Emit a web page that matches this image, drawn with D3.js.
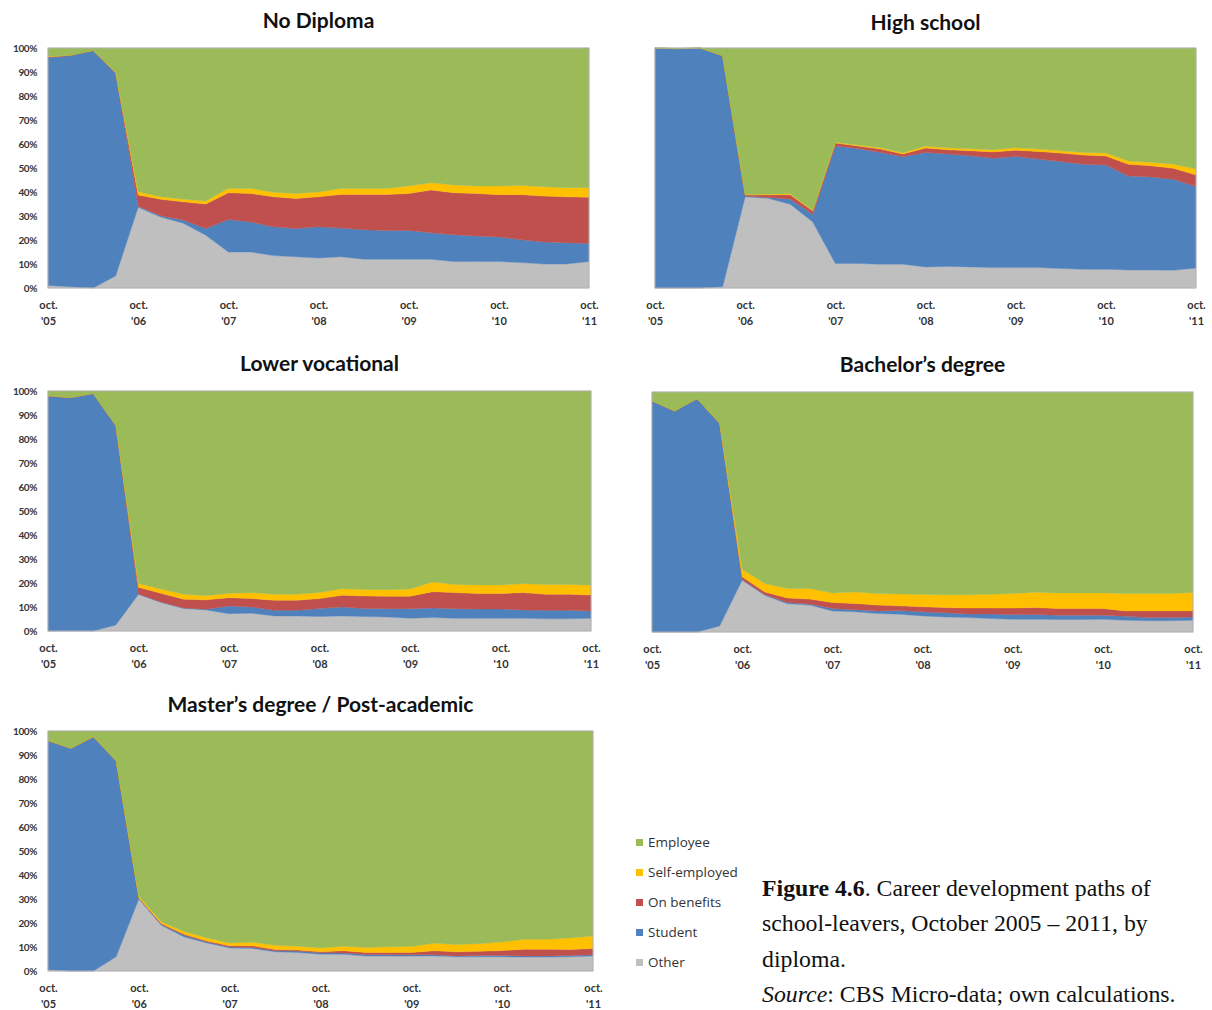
<!DOCTYPE html>
<html>
<head>
<meta charset="utf-8">
<script src="https://cdn.jsdelivr.net/npm/d3@7"></script>
<style>
  html, body { margin: 0; padding: 0; background: #fff; }
  svg { display: block; }
</style>
</head>
<body>
<svg id="chart" width="1212" height="1010"></svg>
<script>
// ---- categories / ticks ----
const quarters = d3.range(25); // Oct 2005 ... Oct 2011, quarterly
const tickYears = ["'05", "'06", "'07", "'08", "'09", "'10", "'11"];
const tickMonth = "oct.";
const yTicks = [0, 10, 20, 30, 40, 50, 60, 70, 80, 90, 100];
const seriesNames = ["Other", "Student", "On benefits", "Self-employed", "Employee"];
const seriesColors = ["#BFBFBF", "#4F81BD", "#C0504D", "#FFC000", "#9BBB59"];
const legendOrder = ["Employee", "Self-employed", "On benefits", "Student", "Other"];

// ---- No Diploma ----
const noDiplomaOther    = [1,0.5,0,5,33.6,29.6,27,22,15,15,13.5,13,12.5,13,12,12,12,12,11,11,11,10.6,10,10,11];
const noDiplomaStudent  = [95,96.5,99,84.5,0.5,0.5,1.3,2.8,13.5,12.5,12,11.8,13,12,12.3,12,12,11,11.2,10.7,10.3,9.5,9.2,8.9,7.5];
const noDiplomaBenefits = [0.3,0.2,0.1,0.3,4.6,6.9,7.6,10.2,11.2,11.9,12.5,12.5,12.5,14,14.7,15,15.4,17.8,17.5,17.7,17.6,18.8,19.1,19.1,19.3];
const noDiplomaSelf     = [0.2,0,0,0.2,1.4,1.1,1.1,1.2,1.8,2.1,1.9,2.1,2,2.5,2.5,2.5,3.1,3.1,3.2,3.1,3.6,3.8,3.9,3.8,4];
const noDiplomaEmployee = [3.5,3,1,10,59.9,62,63,63.8,58.5,58.5,60.1,60.6,60,58.5,58.5,58.5,57.5,56.1,57.1,57.5,57.5,57.3,57.8,58.2,58.2];

// ---- High school ----
const highSchoolOther    = [0,0,0,0.5,38,37.4,34.9,27.5,10.2,10.2,9.9,9.9,8.8,9,8.8,8.5,8.5,8.5,8.1,7.8,7.8,7.5,7.5,7.4,8.3];
const highSchoolStudent  = [100,99.7,100,96.3,0.3,0.3,2.1,3.2,49,47.9,46.6,44.8,47.7,46.8,46.3,45.6,46.3,45.2,44.6,43.8,43.5,39.2,38.8,37.9,34];
const highSchoolBenefits = [0,0,0,0,0.4,1.1,1.9,1.4,1.2,1.1,1.4,1.1,1.8,1.8,2.1,2.6,2.6,3.2,3.5,3.8,3.7,4.9,4.6,4.6,4.8];
const highSchoolSelf     = [0,0,0,0,0.3,0.3,0.4,0.2,0.3,0.4,0.5,0.6,0.8,0.8,0.8,0.9,1,1,1,1.1,1.2,1.3,1.5,1.7,2.5];
const highSchoolEmployee = [0,0.3,0,3.2,61,60.9,60.7,67.7,39.3,40.4,41.6,43.6,40.9,41.6,42,42.4,41.6,42.1,42.8,43.5,43.8,47.1,47.6,48.4,50.4];

// ---- Lower vocational ----
const lowerVocOther    = [0,0,0,2.5,15.3,11.9,9.4,8.8,7.2,7.4,6.3,6.3,6,6.3,6,5.8,5.3,5.6,5.3,5.3,5.3,5.3,5.1,5.1,5.3];
const lowerVocStudent  = [97.8,97.2,98.9,82.9,0.1,0.2,0.2,0.3,3.2,2.6,2.3,2.3,3.4,3.7,3.4,3.5,4,4,4,3.9,3.9,3.5,3.5,3.5,3];
const lowerVocBenefits = [0.2,0.1,0.1,0.2,2.8,3.6,3.6,3.9,3.5,3.5,4.2,4.2,4.1,4.9,5.2,5.2,5.2,6.8,6.7,6.4,6.4,7.2,6.7,6.7,6.7];
const lowerVocSelf     = [0,0,0,0,1.6,1.8,2.1,1.7,1.8,2.4,2.5,2.5,2.5,2.7,2.7,2.7,3,4,3.4,3.6,3.6,3.7,4.1,4.1,4.1];
const lowerVocEmployee = [2,2.7,1,14.4,80.3,82.6,84.7,85.4,84.3,83.7,84.7,84.7,84,82.4,82.7,82.8,82.5,79.6,80.6,80.8,80.8,80.3,80.6,80.6,80.9];

// ---- Bachelor's degree ----
const bachelorOther    = [0,0,0,2.5,21.6,15.3,11.8,11.2,8.8,8.4,7.7,7.4,6.7,6.3,6,5.6,5.3,5.3,5.2,5.2,5.3,4.9,4.7,4.7,4.9];
const bachelorStudent  = [96.2,92,97.2,84.4,0.3,0.3,0.5,0.5,1,0.9,1.1,1.6,1.7,1.7,1.5,1.9,2,2,1.8,1.8,1.7,1.7,1.3,1.3,1.4];
const bachelorBenefits = [0.1,0.1,0,0.1,1.1,1.1,1.9,2,2.5,2.6,2.4,1.9,2.1,2.2,2.5,2.5,2.7,2.9,2.8,2.8,2.8,2.2,2.8,2.8,2.5];
const bachelorSelf     = [0.1,0,0.1,0.2,3.1,3.5,3.9,4.4,4,4.8,4.8,4.9,5.1,5.3,5.5,5.7,6,6.4,6.5,6.5,6.5,7.2,7.2,7.2,7.7];
const bachelorEmployee = [3.6,7.9,2.7,12.8,73.9,79.8,81.9,81.9,83.7,83.3,84,84.2,84.4,84.5,84.5,84.3,84,83.4,83.7,83.7,83.7,84,84,84,83.5];

// ---- Master's degree / Post-academic ----
const masterOther    = [0.5,0,0,5.9,30,19,14.2,11.7,9.6,9.4,8,7.7,7,7,6.2,6.2,6.2,6.3,5.9,5.9,5.9,5.8,5.8,5.9,6.2];
const masterStudent  = [95.4,92.7,97.5,81.6,0.3,0.3,0.7,0.4,0.4,0.4,0.4,0.6,0.6,0.5,0.7,0.6,0.6,0.5,0.4,0.6,0.6,0.5,0.5,0.6,0.6];
const masterBenefits = [0.1,0.1,0.1,0.1,0.1,0.4,0.4,0.4,0.5,0.7,0.6,0.4,0.4,0.9,0.8,0.9,0.9,1.6,1.7,1.7,2,2.8,2.8,2.5,2.6];
const masterSelf     = [0.1,0,0.1,0.1,0.7,0.7,1.2,1.3,1.2,1.5,1.7,1.6,1.6,1.9,2.1,2.4,2.5,3.2,3,3.2,3.6,4.1,4.1,4.8,5.2];
const masterEmployee = [3.9,7.2,2.3,12.3,68.9,79.6,83.5,86.2,88.3,88,89.3,89.7,90.4,89.7,90.2,89.8,89.7,88.4,89,88.6,87.9,86.8,86.8,86.2,85.4];

// ---- layout ----
const panels = [
  { title: "No Diploma", x0: 48, x1: 589, y0: 48, y1: 288, titleY: 28, yAxis: true,
    series: [noDiplomaOther, noDiplomaStudent, noDiplomaBenefits, noDiplomaSelf, noDiplomaEmployee] },
  { title: "High school", x0: 655, x1: 1196, y0: 48, y1: 288, titleY: 30, yAxis: false,
    series: [highSchoolOther, highSchoolStudent, highSchoolBenefits, highSchoolSelf, highSchoolEmployee] },
  { title: "Lower vocational", x0: 48, x1: 591, y0: 391, y1: 631, titleY: 371, yAxis: true,
    series: [lowerVocOther, lowerVocStudent, lowerVocBenefits, lowerVocSelf, lowerVocEmployee] },
  { title: "Bachelor\u2019s degree", x0: 652, x1: 1193, y0: 392, y1: 632, titleY: 372, yAxis: false,
    series: [bachelorOther, bachelorStudent, bachelorBenefits, bachelorSelf, bachelorEmployee] },
  { title: "Master\u2019s degree / Post-academic", x0: 48, x1: 593, y0: 731, y1: 971, titleY: 712, yAxis: true,
    series: [masterOther, masterStudent, masterBenefits, masterSelf, masterEmployee] }
];

const svg = d3.select("#chart");
const font = "Lato, 'Open Sans', sans-serif";

panels.forEach(p => {
  const g = svg.append("g");
  const x = d3.scaleLinear().domain([0, 24]).range([p.x0, p.x1]);
  const y = d3.scaleLinear().domain([0, 1]).range([p.y1, p.y0]);

  const rows = quarters.map(i => {
    const r = { q: i };
    seriesNames.forEach((s, k) => { r[s] = p.series[k][i]; });
    return r;
  });
  const stacked = d3.stack().keys(seriesNames).offset(d3.stackOffsetExpand)(rows);
  const area = d3.area()
    .x(d => x(d.data.q))
    .y0(d => y(d[0]))
    .y1(d => y(d[1]));

  g.selectAll("path.area").data(stacked).join("path")
    .attr("class", "area")
    .attr("d", area)
    .attr("fill", (d, k) => seriesColors[k])
    .attr("stroke", (d, k) => seriesColors[k])
    .attr("stroke-width", 0.4);

  // plot frame
  g.append("rect")
    .attr("x", p.x0).attr("y", p.y0)
    .attr("width", p.x1 - p.x0).attr("height", p.y1 - p.y0)
    .attr("fill", "none").attr("stroke", "#b0b0b0").attr("stroke-width", 1);

  // title
  g.append("text")
    .attr("x", (p.x0 + p.x1) / 2 + 0).attr("y", p.titleY)
    .attr("text-anchor", "middle")
    .attr("font-family", font).attr("font-weight", "bold").attr("font-size", 21)
    .attr("fill", "#111")
    .text(p.title);

  // y axis labels
  if (p.yAxis) {
    const ya = d3.axisLeft(d3.scaleLinear().domain([0, 100]).range([p.y1, p.y0]))
      .tickValues(yTicks).tickSize(0).tickPadding(11).tickFormat(d => d + "%");
    const yg = g.append("g").attr("transform", `translate(${p.x0},0)`).call(ya);
    yg.select(".domain").remove();
    yg.selectAll("text").attr("font-family", font).attr("font-size", 10)
      .attr("font-weight", "bold").attr("fill", "#333").attr("letter-spacing", "-0.4");
  }

  // x axis labels (two lines)
  const xa = d3.axisBottom(x).tickValues(d3.range(0, 25, 4)).tickSize(0).tickPadding(0).tickFormat(() => "");
  const xg = g.append("g").attr("transform", `translate(0,${p.y1})`).call(xa);
  xg.select(".domain").remove();
  xg.selectAll(".tick").each(function(d, i) {
    const t = d3.select(this);
    t.append("text").attr("y", 21).attr("text-anchor", "middle")
      .attr("font-family", font).attr("font-size", 11).attr("font-weight", "bold").attr("fill", "#333")
      .text(tickMonth);
    t.append("text").attr("y", 37).attr("text-anchor", "middle")
      .attr("font-family", font).attr("font-size", 11).attr("font-weight", "bold").attr("fill", "#333")
      .text(tickYears[i]);
  });
});

// legend
const legend = svg.append("g");
legendOrder.forEach((name, i) => {
  const k = seriesNames.indexOf(name);
  const ly = 842 + i * 30;
  legend.append("rect").attr("x", 636).attr("y", ly - 3).attr("width", 7).attr("height", 7)
    .attr("fill", seriesColors[k]);
  legend.append("text").attr("x", 648).attr("y", ly + 5)
    .attr("font-family", "'Open Sans', sans-serif").attr("font-size", 13.5).attr("fill", "#333")
    .text(name);
});

// caption
const cap = svg.append("g").attr("font-family", "'Liberation Serif', 'DejaVu Serif', serif")
  .attr("font-size", 23.8).attr("fill", "#111");
const l1 = cap.append("text").attr("x", 762).attr("y", 896);
l1.append("tspan").attr("font-weight", "bold").text("Figure 4.6");
l1.append("tspan").text(". Career development paths of");
cap.append("text").attr("x", 762).attr("y", 931).text("school-leavers, October 2005 \u2013 2011, by");
cap.append("text").attr("x", 762).attr("y", 967).text("diploma.");
const l4 = cap.append("text").attr("x", 762).attr("y", 1002);
l4.append("tspan").attr("font-style", "italic").text("Source");
l4.append("tspan").text(": CBS Micro-data; own calculations.");
</script>
</body>
</html>
